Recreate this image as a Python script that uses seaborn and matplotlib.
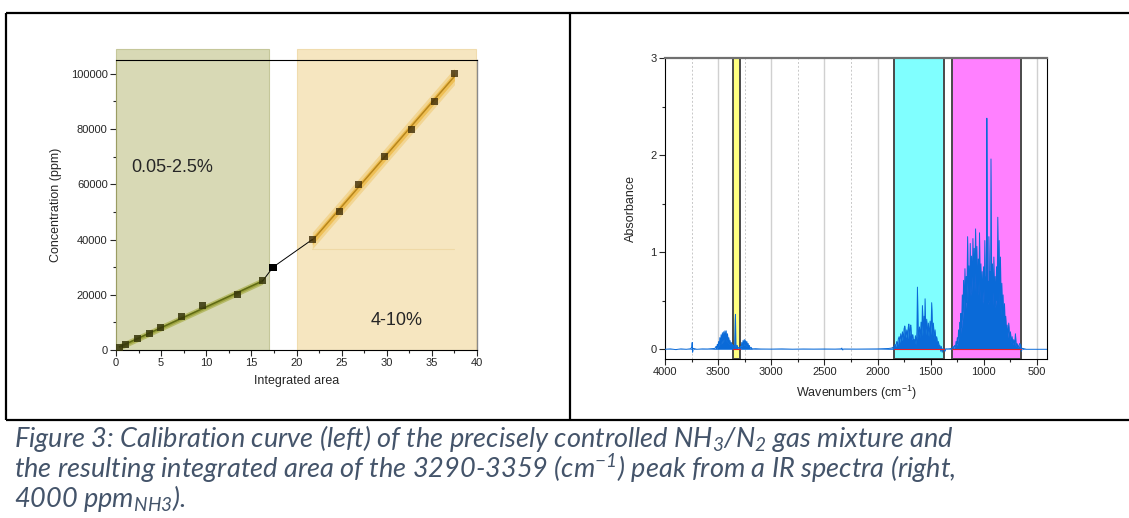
import numpy as np
import pandas as pd
import matplotlib
matplotlib.use("Agg")
import matplotlib.pyplot as plt
from matplotlib.patches import Rectangle
from matplotlib.ticker import MultipleLocator
import seaborn as sns

# ---------------- data: calibration curve ----------------
area_low = [0.37, 1.1, 2.4, 3.75, 4.9, 7.3, 9.6, 13.5, 16.25]
conc_low = [1000, 2000, 4000, 6000, 8000, 12000, 16000, 20000, 25000]
area_mid = [17.4]
conc_mid = [30000]
area_high = [21.75, 24.8, 26.85, 29.7, 32.75, 35.25, 37.5]
conc_high = [40000, 50000, 60000, 70000, 80000, 90000, 100000]
range_labels = ["0.05-2.5%", "4-10%"]

# ---------------- data: IR spectrum, (wavenumber, absorbance) ----------------
spec_nh_stretch = [
    (4000, 0.0), (3950, 0.004), (3900, -0.003), (3850, 0.004), (3800, 0.0), (3760, 0.005), (3748, 0.02),
    (3744, 0.07), (3741, -0.03), (3736, 0.01), (3700, 0.0), (3650, 0.004), (3600, 0.003), (3560, 0.006),
    (3540, 0.008), (3530, 0.01), (3520, 0.03), (3514, 0.01), (3508, 0.05), (3502, 0.02), (3496, 0.08),
    (3490, 0.03), (3484, 0.12), (3478, 0.05), (3472, 0.15), (3466, 0.06), (3460, 0.17), (3454, 0.07),
    (3448, 0.18), (3442, 0.08), (3436, 0.19), (3430, 0.08), (3424, 0.19), (3418, 0.07), (3412, 0.16),
    (3406, 0.06), (3400, 0.12), (3394, 0.05), (3388, 0.09), (3382, 0.04), (3376, 0.07), (3370, 0.03),
    (3364, 0.05), (3358, 0.02), (3352, 0.04), (3346, 0.02), (3340, 0.30), (3337, 0.36), (3334, 0.05),
    (3328, 0.03), (3320, 0.04), (3314, 0.01), (3306, 0.02), (3298, 0.01), (3290, 0.03), (3284, 0.01),
    (3278, 0.07), (3272, 0.03), (3266, 0.09), (3260, 0.04), (3254, 0.10), (3248, 0.04), (3242, 0.09),
    (3236, 0.03), (3230, 0.08), (3224, 0.03), (3218, 0.06), (3212, 0.02), (3206, 0.04), (3200, 0.01),
    (3190, 0.02), (3180, 0.004), (3150, 0.006), (3100, 0.003), (3050, 0.002), (3000, 0.002),
    (2900, 0.004), (2800, 0.001), (2700, 0.003), (2600, 0.002), (2500, 0.003), (2400, 0.002),
    (2345, 0.004), (2336, 0.012), (2330, -0.006), (2320, 0.003), (2200, 0.002), (2100, 0.003),
    (2000, 0.004), (1950, 0.006), (1900, 0.008), (1870, 0.012), (1855, 0.02), (1845, 0.03),
]
spec_bend = [
    (1836, 0.05), (1828, 0.03), (1820, 0.08), (1812, 0.05), (1804, 0.11), (1797, 0.13), (1790, 0.07),
    (1782, 0.16), (1774, 0.09), (1766, 0.18), (1758, 0.10), (1751, 0.21), (1744, 0.24), (1736, 0.12),
    (1728, 0.18), (1725, 0.20), (1718, 0.11), (1712, 0.22), (1706, 0.26), (1700, 0.13), (1694, 0.20),
    (1688, 0.25), (1680, 0.10), (1674, 0.12), (1669, 0.15), (1662, 0.07), (1656, 0.10), (1650, 0.06),
    (1644, 0.14), (1636, 0.05), (1630, 0.18), (1625, 0.64), (1618, 0.12), (1612, 0.18), (1606, 0.23),
    (1598, 0.12), (1591, 0.28), (1584, 0.14), (1578, 0.45), (1570, 0.15), (1563, 0.34), (1558, 0.16),
    (1553, 0.52), (1546, 0.15), (1538, 0.31), (1530, 0.14), (1522, 0.27), (1514, 0.13), (1506, 0.29),
    (1498, 0.15), (1491, 0.48), (1483, 0.14), (1475, 0.27), (1467, 0.11), (1459, 0.20), (1451, 0.08),
    (1444, 0.13), (1436, 0.05), (1428, 0.08), (1422, 0.04), (1414, 0.04), (1406, -0.02), (1400, 0.03),
    (1392, -0.03), (1384, 0.01), (1375, 0.0), (1368, -0.02), (1360, 0.005), (1340, 0.004),
    (1320, 0.006), (1300, 0.01),
]
spec_umbrella = [
    (1290, 0.03), (1284, 0.01), (1275, 0.04), (1268, 0.02), (1262, 0.08), (1256, 0.04), (1250, 0.12),
    (1244, 0.06), (1238, 0.20), (1231, 0.10), (1224, 0.28), (1220, 0.15), (1216, 0.37), (1210, 0.22),
    (1203, 0.56), (1197, 0.30), (1191, 0.71), (1185, 0.38), (1178, 0.83), (1172, 0.42), (1166, 0.75),
    (1160, 0.48), (1153, 1.16), (1147, 0.52), (1141, 0.86), (1134, 0.55), (1128, 1.09), (1122, 0.55),
    (1116, 0.96), (1110, 0.58), (1103, 1.14), (1097, 0.60), (1091, 1.04), (1085, 0.60), (1078, 1.24),
    (1072, 0.58), (1066, 1.06), (1060, 0.55), (1053, 0.93), (1047, 0.58), (1041, 1.20), (1035, 0.52),
    (1028, 0.88), (1022, 0.48), (1016, 0.80), (1010, 0.47), (1003, 0.85), (997, 0.50), (991, 1.12),
    (985, 0.45), (978, 0.75), (975, 0.45), (972, 2.38), (966, 0.45), (960, 0.70), (955, 0.48),
    (953, 1.16), (945, 0.50), (940, 0.80), (937, 0.50), (933, 1.96), (926, 0.48), (919, 0.88),
    (913, 0.45), (906, 0.95), (900, 0.42), (894, 0.75), (888, 0.45), (881, 0.85), (875, 0.50),
    (869, 1.36), (862, 0.45), (856, 1.12), (850, 0.40), (844, 0.95), (838, 0.35), (831, 0.68),
    (825, 0.30), (819, 0.56), (812, 0.25), (806, 0.47), (800, 0.20), (794, 0.34), (788, 0.15),
    (781, 0.25), (774, 0.12), (766, 0.27), (758, 0.10), (750, 0.18), (742, 0.07), (734, 0.13),
    (726, 0.05), (719, 0.10), (711, 0.04), (703, 0.16), (696, 0.03), (688, 0.06), (676, 0.02),
    (663, 0.06), (654, 0.05), (648, -0.02), (640, 0.01), (600, 0.0), (500, 0.0), (406, 0.0),
]
bands = [(3359, 3290), (1845, 1372), (1297, 652)]
band_colors = ["#ffff80", "#80ffff", "#ff80ff"]

# ---------------- figure ----------------
sns.set_theme(style="white")
plt.rcParams["font.family"] = ["Liberation Sans", "DejaVu Sans"]
plt.rcParams["mathtext.fontset"] = "custom"
plt.rcParams["mathtext.rm"] = "Lato:italic"
plt.rcParams["mathtext.it"] = "Lato:italic"
plt.rcParams["mathtext.sf"] = "Liberation Sans"
plt.rcParams["mathtext.default"] = "rm"

fig = plt.figure(figsize=(11.29, 5.18), dpi=100)
W, H = 1129, 518

def fx(px):
    return px / W

def fy(py):
    return 1 - py / H

# frame lines
frame_kw = dict(color="black", lw=1.6, transform=fig.transFigure, solid_capstyle="butt")
fig.add_artist(plt.Line2D([fx(6), 1.0], [fy(13), fy(13)], **frame_kw))
fig.add_artist(plt.Line2D([fx(6), 1.0], [fy(420), fy(420)], **frame_kw))
fig.add_artist(plt.Line2D([fx(6), fx(6)], [fy(13), fy(420)], **frame_kw))
fig.add_artist(plt.Line2D([fx(570), fx(570)], [fy(13), fy(420)], **frame_kw))

# ---------------- left: calibration ----------------
axL = fig.add_axes([fx(116), fy(350), fx(477) - fx(116), fy(60) - fy(350)])
axL.set_xlim(0, 40)
axL.set_ylim(0, 105000)

axL.add_patch(Rectangle((0, 0), 16.9, 109000, facecolor="#d8d9b5", edgecolor="#c5c79a",
                        lw=0.8, clip_on=False, zorder=0))
axL.add_patch(Rectangle((20, 0), 19.9, 109000, facecolor="#f6e6c0", edgecolor="#f0dcae",
                        lw=0.8, clip_on=False, zorder=0))

# linear fits with two-tone bands
for xs, ys, lc, outer_c, inner_c, half in [
        (area_low, conc_low, "#5f6a14", "#b7bb6a", "#9ca23e", 1200),
        (area_high, conc_high, "#b8861c", "#f2d592", "#eebf55", 3000)]:
    k, b = np.polyfit(xs, ys, 1)
    xx = np.array([min(xs), max(xs)])
    yy = k * xx + b
    axL.fill_between(xx, yy - half, yy + half, color=outer_c, lw=0, zorder=2)
    axL.fill_between(xx, yy - half * 0.5, yy + half * 0.5, color=inner_c, lw=0, zorder=2)
    sns.lineplot(x=xx, y=yy, ax=axL, color=lc, lw=1.1, zorder=3)

axL.plot([area_high[0], area_high[-1]], [36600, 36600], color="#efd9a6", lw=0.8, zorder=1)

# connecting thin black line
sns.lineplot(x=[area_low[-1], area_mid[0], area_high[0]], y=[conc_low[-1], conc_mid[0], conc_high[0]],
             ax=axL, color="black", lw=0.7, sort=False, estimator=None, zorder=3)

sns.scatterplot(x=area_low, y=conc_low, ax=axL, marker="s", s=26, color="#35350a", alpha=0.85,
                edgecolor="none", zorder=4, clip_on=False)
sns.scatterplot(x=area_high, y=conc_high, ax=axL, marker="s", s=26, color="#3e2c06", alpha=0.8,
                edgecolor="none", zorder=4, clip_on=False)
sns.scatterplot(x=area_mid, y=conc_mid, ax=axL, marker="s", s=26, color="black",
                edgecolor="none", zorder=4)

axL.text(1.7, 66000, range_labels[0], fontsize=13, va="center", ha="left", zorder=5)
axL.text(28.2, 10800, range_labels[1], fontsize=13, va="center", ha="left", zorder=5)

axL.xaxis.set_major_locator(MultipleLocator(5))
axL.xaxis.set_minor_locator(MultipleLocator(2.5))
axL.yaxis.set_major_locator(MultipleLocator(20000))
axL.yaxis.set_minor_locator(MultipleLocator(10000))
axL.tick_params(which="major", direction="out", length=4, width=0.8, labelsize=8,
                bottom=True, left=True, pad=2)
axL.tick_params(which="minor", direction="out", length=2.5, width=0.8, bottom=True, left=True)
axL.set_xlabel("Integrated area", fontsize=9, labelpad=5)
axL.set_ylabel("Concentration (ppm)", fontsize=9, labelpad=6)
for s in ["bottom", "top"]:
    axL.spines[s].set_color("black")
    axL.spines[s].set_linewidth(0.8)
axL.spines["left"].set_color("#9a9c62")
axL.spines["left"].set_linewidth(0.8)
axL.spines["right"].set_color("#8a8a8a")
axL.spines["right"].set_linewidth(1.0)
axL.patch.set_alpha(0)

# ---------------- right: IR spectrum ----------------
axR = fig.add_axes([fx(665), fy(359), fx(1047) - fx(665), fy(58) - fy(359)])
axR.set_xlim(4000, 406)
axR.set_ylim(-0.1, 3)
for g in [3500, 3000, 2500, 2000, 1500, 1000, 500]:
    axR.axvline(g, color="#d0d0d0", lw=1.0, zorder=0)
for g in [3750, 3250, 2750, 2250, 1750, 1250, 750]:
    axR.axvline(g, color="#c8c8c8", lw=0.7, ls=(0, (2, 2)), zorder=0)

for (a, b), c in zip(bands, band_colors):
    axR.axvspan(b, a, facecolor=c, edgecolor="#4a4a4a", lw=1.4, zorder=1)

pairs = spec_nh_stretch + spec_bend + spec_umbrella
spec = pd.DataFrame({"wn": [p[0] for p in pairs], "A": [p[1] for p in pairs]})
axR.fill_between(spec["wn"], 0, spec["A"], color="#0a6ad8", lw=0, zorder=2)
sns.lineplot(data=spec, x="wn", y="A", ax=axR, color="#0a6ad8", lw=0.7, sort=False,
             estimator=None, zorder=3)
for a, b in bands:
    axR.plot([a, b], [0, 0], color="#e0202a", lw=0.8, zorder=4)

axR.xaxis.set_major_locator(MultipleLocator(500))
axR.xaxis.set_minor_locator(MultipleLocator(250))
axR.yaxis.set_major_locator(MultipleLocator(1))
axR.yaxis.set_minor_locator(MultipleLocator(0.5))
axR.tick_params(which="major", direction="out", length=4, width=0.8, labelsize=8,
                bottom=True, left=True, pad=2)
axR.tick_params(which="minor", direction="out", length=2.5, width=0.8, bottom=True, left=True)
axR.set_xlabel("Wavenumbers (cm$^{\\mathsf{-1}}$)", fontsize=9, labelpad=5)
axR.set_ylabel("Absorbance", fontsize=9, labelpad=10)
for s in ["bottom", "left", "right"]:
    axR.spines[s].set_color("black")
    axR.spines[s].set_linewidth(0.8)
axR.spines["top"].set_color("#707070")
axR.spines["top"].set_linewidth(1.6)

# ---------------- caption ----------------
cap_lines = [
    "Figure 3: Calibration curve (left) of the precisely controlled NH$_3$/N$_2$ gas mixture and",
    "the resulting integrated area of the 3290-3359 (cm$^{-1}$) peak from a IR spectra (right,",
    "4000 ppm$_{\\mathrm{NH3}}$).",
]
for i, line in enumerate(cap_lines):
    fig.text(fx(14), fy(439 + 30 * i), line, fontsize=19.5, family="Lato", style="italic",
             color="#44546a", ha="left", va="center")

fig.savefig("out.png", dpi=100)
